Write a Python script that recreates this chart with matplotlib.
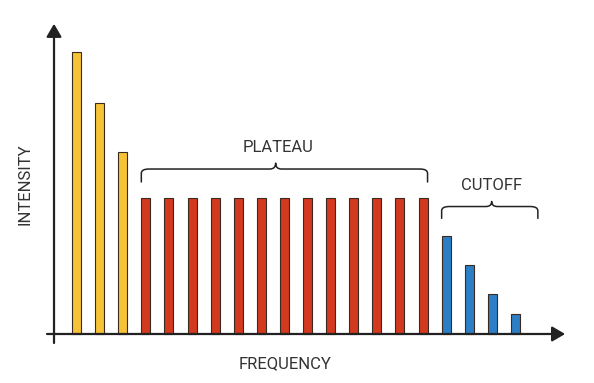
import matplotlib
matplotlib.use("Agg")
import matplotlib.pyplot as plt
from matplotlib.path import Path
from matplotlib.patches import PathPatch

# ---- data ----
rise_values = [10.0, 8.2, 6.45]
plateau_values = [4.82] * 13
cutoff_values = [3.48, 2.45, 1.42, 0.71]
group_labels = ["PLATEAU", "CUTOFF"]
x_label = "FREQUENCY"
y_label = "INTENSITY"

colors = {"rise": "#F6C236", "plateau": "#D2391E", "cutoff": "#2C7FC6"}
edge = "#3a2a20"
ink = "#222222"
text_ink = "#333333"

values = rise_values + plateau_values + cutoff_values
groups = (["rise"] * len(rise_values) + ["plateau"] * len(plateau_values)
          + ["cutoff"] * len(cutoff_values))
xs = list(range(len(values)))

fig = plt.figure(figsize=(5.94, 3.83), dpi=100)
ax = fig.add_axes([0, 0, 1, 1])
ax.set_xlim(-3.312, 22.40)
ax.set_ylim(-1.738, 11.844)
ax.axis("off")

bw = 0.39
ax.bar(xs, values, width=bw, color=[colors[g] for g in groups],
       edgecolor=edge, linewidth=0.8, zorder=3)

# axes with arrows
arrow = dict(arrowstyle="-|>,head_length=0.65,head_width=0.38",
             mutation_scale=12, color=ink, lw=1.6, shrinkA=0, shrinkB=0)
ax.annotate("", xy=(-0.974, 11.0), xytext=(-0.974, -0.32), arrowprops=arrow, zorder=4)
ax.annotate("", xy=(21.15, 0), xytext=(-1.277, 0), arrowprops=arrow, zorder=4)


def brace(x0, x1, xm, ybot, ytop, ypeak, r=0.33, rm=0.25):
    verts = [
        (x0, ybot), (x0, ytop - 0.15), (x0, ytop), (x0 + r, ytop),
        (xm - rm, ytop), (xm, ytop), (xm, ypeak),
        (xm, ytop), (xm + rm, ytop),
        (x1 - r, ytop), (x1, ytop), (x1, ytop - 0.15), (x1, ybot),
    ]
    codes = [
        Path.MOVETO, Path.LINETO, Path.CURVE3, Path.CURVE3,
        Path.LINETO, Path.CURVE3, Path.CURVE3,
        Path.CURVE3, Path.CURVE3,
        Path.LINETO, Path.CURVE3, Path.CURVE3, Path.LINETO,
    ]
    ax.add_patch(PathPatch(Path(verts, codes), fill=False, edgecolor=ink,
                           lw=1.1, capstyle="round", joinstyle="round"))


n_r = len(rise_values)
n_p = len(plateau_values)
p0 = n_r - bw / 2
p1 = n_r + n_p - 1 + bw / 2
brace(p0, p1, 8.62, 5.39, 5.85, 6.06)
ax.text(8.72, 6.63, group_labels[0], ha="center", va="center",
        fontsize=12, color=text_ink, family="Roboto")

c0 = n_r + n_p - bw / 2
c1 = 19.97
brace(c0, c1, 17.97, 4.10, 4.52, 4.70)
ax.text(17.95, 5.28, group_labels[1], ha="center", va="center",
        fontsize=12, color=text_ink, family="Roboto")

fig.text(25 / 594, 1 - 184.5 / 383, y_label, rotation=90, ha="center", va="center",
         fontsize=12, color=text_ink, family="Roboto")
fig.text(285.5 / 594, 1 - 364 / 383, x_label, ha="center", va="center",
         fontsize=12, color=text_ink, family="Roboto")

fig.savefig("out.png", dpi=100)
